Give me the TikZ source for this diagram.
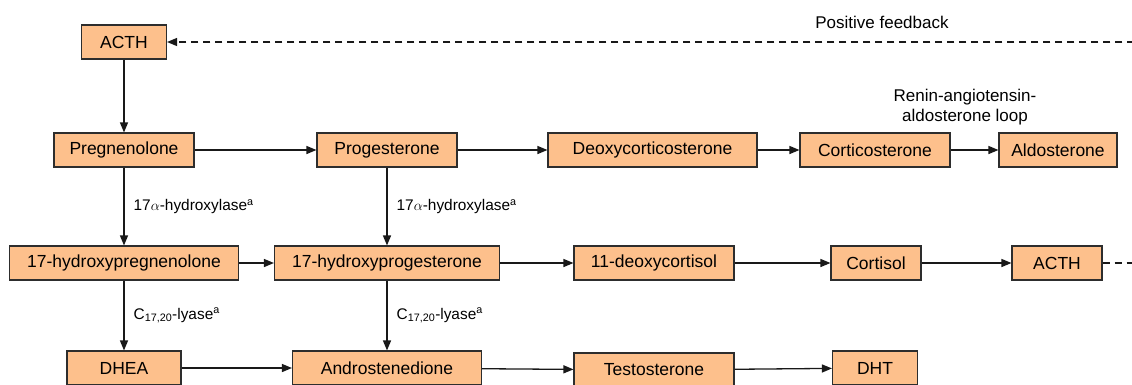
\documentclass[tikz,border=0pt]{standalone}
\usepackage{fontspec}
\setmainfont{Liberation Sans}
\usetikzlibrary{arrows.meta}
\definecolor{boxfill}{RGB}{253,192,140}
\definecolor{boxline}{RGB}{45,45,45}
\tikzset{
 box/.style={draw=boxline, fill=boxfill, line width=1.1pt, inner sep=0pt,
   minimum height=34, font=\fontsize{17.5}{20}\selectfont},
 arr/.style={line width=1.3pt, draw=black!90, -{Triangle[length=10pt,width=8pt]}},
 fb/.style={arr, dash pattern=on 7pt off 5pt},
 lbl/.style={inner sep=0pt, font=\fontsize{15.4}{18}\selectfont},
 note/.style={inner sep=0pt, font=\fontsize{17}{20}\selectfont}
}
\begin{document}
\begin{tikzpicture}[x=1pt,y=-1pt]
 \useasboundingbox (0,0) rectangle (1132,384);
 % top row
 \node[box,minimum width=85] (acthA) at (124,42) {ACTH};
 \node[note] (pfb) at (882,22) {Positive feedback};
 \node[note,align=center] (raas) at (965,107) {Renin-angiotensin-\\aldosterone loop};
 % mineralocorticoid row
 \node[box,minimum width=140] (preg) at (124,150) {Pregnenolone};
 \node[box,minimum width=140] (prog) at (387,150) {Progesterone};
 \node[box,minimum width=209] (doc) at (652.5,150) {Deoxycorticosterone};
 \node[box,minimum width=150] (cort) at (875,150) {Corticosterone};
 \node[box,minimum width=118] (aldo) at (1058,150) {Aldosterone};
 % glucocorticoid row
 \node[box,minimum width=229] (ohpreg) at (124,263) {17-hydroxypregnenolone};
 \node[box,minimum width=225] (ohprog) at (387,263) {17-hydroxyprogesterone};
 \node[box,minimum width=160] (dox) at (654,263) {11-deoxycortisol};
 \node[box,minimum width=90] (cortisol) at (876,263) {Cortisol};
 \node[box,minimum width=90] (acthB) at (1057,263) {ACTH};
 % androgen row
 \node[box,minimum width=114] (dhea) at (124,368) {DHEA};
 \node[box,minimum width=189] (andro) at (387,368) {Androstenedione};
 \node[box,minimum width=160] (testo) at (654,370) {Testosterone};
 \node[box,minimum width=85] (dht) at (875,368) {DHT};
 \coordinate (fbB) at (1140,263);
 \coordinate (fbT) at (1140,42);

 \draw[arr] (acthA) -- (preg);
 \draw[arr] (preg) -- (prog);
 \draw[arr] (prog) -- (doc);
 \draw[arr] (doc) -- (cort);
 \draw[arr] (cort) -- (aldo);
 \draw[arr] (preg) -- node[lbl,right=9pt] (hydA) {17$\alpha$-hydroxylase\textsuperscript{a}} (ohpreg);
 \draw[arr] (prog) -- node[lbl,right=9pt] (hydB) {17$\alpha$-hydroxylase\textsuperscript{a}} (ohprog);
 \draw[arr] (ohpreg) -- (ohprog);
 \draw[arr] (ohprog) -- (dox);
 \draw[arr] (dox) -- (cortisol);
 \draw[arr] (cortisol) -- (acthB);
 \draw[arr] (ohpreg) -- node[lbl,right=9pt] (lyaA) {C\textsubscript{17,20}-lyase\textsuperscript{a}} (dhea);
 \draw[arr] (ohprog) -- node[lbl,right=9pt] (lyaB) {C\textsubscript{17,20}-lyase\textsuperscript{a}} (andro);
 \draw[arr] (dhea) -- (andro);
 \draw[arr] (andro) -- (testo);
 \draw[arr] (testo) -- (dht);
 \draw[fb] (acthB) -- (fbB) -- (fbT) -- (acthA);
\end{tikzpicture}
\end{document}
